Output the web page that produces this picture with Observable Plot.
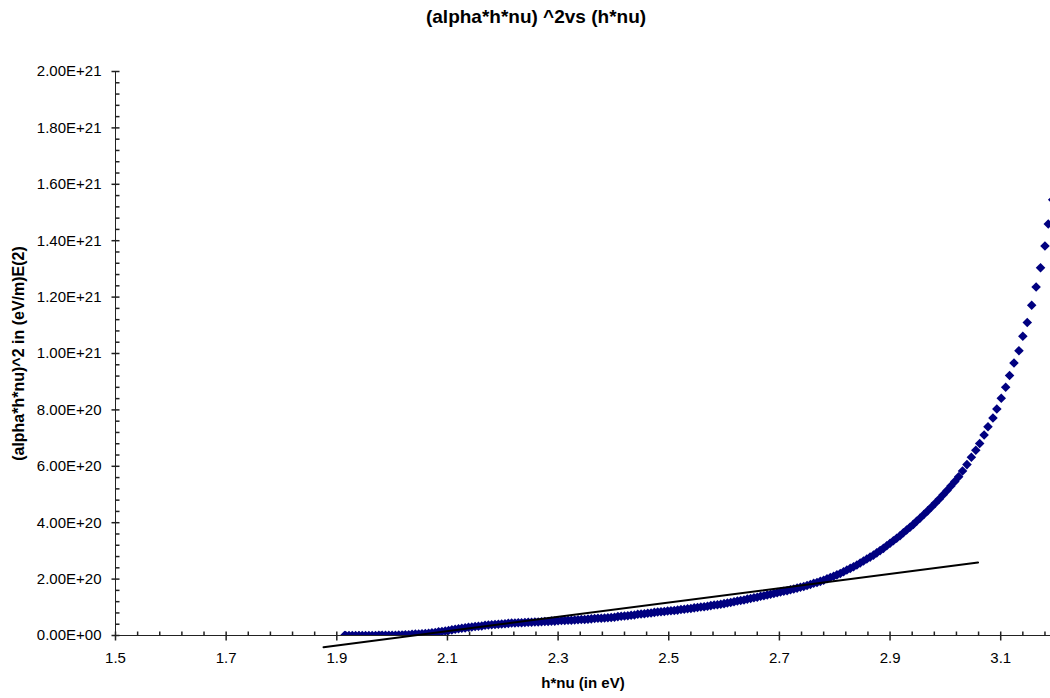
<!DOCTYPE html>
<html><head><meta charset="utf-8">
<script src="https://cdn.jsdelivr.net/npm/d3@7"></script>
<script src="https://cdn.jsdelivr.net/npm/@observablehq/plot@0.6"></script>
<style>body{margin:0;background:#fff;}</style>
</head><body><div id="chart"></div>
<script>
const title = "(alpha*h*nu) ^2vs (h*nu)";
const xTitle = "h*nu (in eV)";
const yTitle = "(alpha*h*nu)^2 in (eV/m)E(2)";

// photon energy (eV)
const energy = [
1.914,1.916,1.922,1.928,1.934,1.940,1.946,
1.952,1.958,1.964,1.970,1.976,1.982,1.988,1.994,2.000,
2.006,2.012,2.018,2.024,2.030,
2.036,2.042,2.048,2.054,2.060,
2.066,2.072,2.078,2.084,2.090,
2.096,2.102,2.108,2.114,2.120,
2.126,2.132,2.138,2.144,2.150,
2.156,2.162,2.168,2.174,2.180,
2.186,2.192,2.198,2.204,2.210,
2.216,2.222,2.228,2.234,2.240,
2.246,2.252,2.258,2.264,2.270,
2.276,2.282,2.288,2.294,2.300,
2.306,2.312,2.318,2.324,2.330,
2.336,2.342,2.348,2.354,2.360,
2.366,2.372,2.378,2.384,2.390,
2.396,2.402,2.408,2.414,2.420,
2.426,2.432,2.438,2.444,2.450,
2.456,2.462,2.468,2.474,2.480,
2.486,2.492,2.498,2.504,2.510,
2.516,2.522,2.528,2.534,2.540,
2.546,2.552,2.558,2.564,2.570,
2.576,2.582,2.588,2.594,2.600,
2.606,2.612,2.618,2.624,2.630,
2.636,2.642,2.648,2.654,2.660,
2.666,2.672,2.678,2.684,2.690,
2.696,2.702,2.708,2.714,2.720,
2.726,2.732,2.738,2.744,2.750,
2.756,2.762,2.768,2.774,2.780,
2.786,2.792,2.798,2.804,2.810,
2.816,2.822,2.828,2.834,2.840,
2.846,2.852,2.858,2.864,2.870,
2.876,2.882,2.888,2.894,2.900,
2.906,2.912,2.918,2.924,2.930,
2.936,2.942,2.948,2.954,
2.961,2.968,2.975,2.982,2.989,2.996,3.003,3.010,3.017,3.024,
3.031,3.039,3.047,3.055,3.062,3.070,3.077,3.086,3.093,3.101,
3.109,3.116,3.124,3.133,3.140,3.148,3.156,3.164,3.172,3.180,3.186,3.194
];
// (alpha*h*nu)^2 in units of 1E+20
const ahv2E20 = [
0,0,0,0,0,0,0,
0,0,0,0,0.01,0.01,0.01,0.01,0.01,
0.01,0.02,0.02,0.03,0.03,
0.04,0.05,0.05,0.06,0.07,
0.08,0.10,0.11,0.13,0.14,
0.16,0.18,0.20,0.22,0.24,
0.26,0.27,0.29,0.30,0.32,
0.33,0.34,0.36,0.37,0.38,
0.39,0.40,0.41,0.42,0.43,
0.44,0.44,0.45,0.45,0.46,
0.47,0.47,0.48,0.48,0.49,
0.50,0.50,0.51,0.51,0.52,
0.53,0.53,0.54,0.54,0.55,
0.56,0.57,0.57,0.58,0.59,
0.60,0.61,0.61,0.62,0.63,
0.64,0.65,0.67,0.68,0.69,
0.70,0.72,0.73,0.75,0.76,
0.77,0.79,0.80,0.82,0.83,
0.84,0.85,0.87,0.88,0.89,
0.90,0.92,0.93,0.95,0.96,
0.98,0.99,1.01,1.02,1.04,
1.06,1.08,1.09,1.11,1.13,
1.15,1.17,1.20,1.22,1.24,
1.26,1.29,1.31,1.34,1.36,
1.39,1.41,1.44,1.46,1.49,
1.52,1.54,1.57,1.59,1.62,
1.65,1.68,1.71,1.74,1.77,
1.81,1.85,1.88,1.92,1.96,
2.01,2.06,2.10,2.15,2.20,
2.26,2.32,2.38,2.44,2.50,
2.57,2.64,2.71,2.78,2.85,
2.93,3.01,3.09,3.18,3.27,
3.36,3.45,3.54,3.64,3.74,
3.84,3.94,4.05,4.16,
4.29,4.42,4.56,4.70,4.84,4.99,5.14,5.30,5.46,5.63,
5.83,6.06,6.32,6.57,6.81,7.11,7.40,7.71,8.03,8.41,
8.80,9.22,9.66,10.10,10.61,11.10,11.71,12.36,13.04,13.81,14.59,15.45
];

// linear fit line
const trendEnergy = [1.876, 3.059];
const trendE20 = [-0.415, 2.587];

const xMajor = [1.5,1.7,1.9,2.1,2.3,2.5,2.7,2.9,3.1];
const xMinor = [1.54,1.58,1.62,1.66,1.74,1.78,1.82,1.86,1.94,1.98,2.02,2.06,2.14,2.18,2.22,2.26,2.34,2.38,2.42,2.46,2.54,2.58,2.62,2.66,2.74,2.78,2.82,2.86,2.94,2.98,3.02,3.06,3.14,3.18];
const yMajorE20 = [0,2,4,6,8,10,12,14,16,18,20];
const yMinorE20 = [0.4,0.8,1.2,1.6,2.4,2.8,3.2,3.6,4.4,4.8,5.2,5.6,6.4,6.8,7.2,7.6,8.4,8.8,9.2,9.6,10.4,10.8,11.2,11.6,12.4,12.8,13.2,13.6,14.4,14.8,15.2,15.6,16.4,16.8,17.2,17.6,18.4,18.8,19.2,19.6];

const E20 = 1e20;
const points = energy.map((e, i) => ({x: e, y: ahv2E20[i] * E20}));
const trend = trendEnergy.map((e, i) => ({x: e, y: trendE20[i] * E20}));
const yMajor = yMajorE20.map(v => v * E20);
const yMinor = yMinorE20.map(v => v * E20);

const fmtE = d => d === 0 ? "0.00E+00" : d.toExponential(2).toUpperCase();
const seg = (x1, y1, x2, y2) => ({draw(ctx) { ctx.moveTo(x1, y1); ctx.lineTo(x2, y2); }});
const axisColor = "#222";

const chart = Plot.plot({
  width: 1050,
  height: 698,
  marginLeft: 115,
  marginRight: 0,
  marginTop: 71,
  marginBottom: 63,
  style: {fontFamily: "'Liberation Sans', Arial, sans-serif", fontSize: "15px", color: "#000", background: "#fff"},
  x: {domain: [1.5, 3.19]},
  y: {domain: [0, 2e21]},
  marks: [
    Plot.ruleY([0], {stroke: axisColor}),
    Plot.ruleX([1.5], {stroke: axisColor}),
    Plot.dot(xMinor, {x: d => d, y: () => 0, r: 1, symbol: seg(0, -4, 0, 0), stroke: axisColor, fill: "none"}),
    Plot.dot(xMajor, {x: d => d, y: () => 0, r: 1, symbol: seg(0, -4, 0, 5), stroke: axisColor, fill: "none"}),
    Plot.dot(yMinor, {x: () => 1.5, y: d => d, r: 1, symbol: seg(0, 0, 4, 0), stroke: axisColor, fill: "none"}),
    Plot.dot(yMajor, {x: () => 1.5, y: d => d, r: 1, symbol: seg(-4, 0, 4, 0), stroke: axisColor, fill: "none"}),
    Plot.axisX({ticks: xMajor, tickSize: 0, tickPadding: 17, tickFormat: d3.format(".1f"), fontSize: 15, label: null}),
    Plot.axisY({ticks: yMajor, tickSize: 0, tickPadding: 14, tickFormat: fmtE, fontSize: 15, label: null}),
    Plot.dot(points, {x: "x", y: "y", symbol: "diamond2", r: 4.3, fill: "#000080", stroke: "none", clip: true}),
    Plot.line(trend, {x: "x", y: "y", stroke: "#000", strokeWidth: 2}),
    Plot.text([title], {text: d => d, frameAnchor: "top", textAnchor: "middle", lineAnchor: "middle", dx: -47, dy: -55, fontSize: 19, fontWeight: "bold"}),
    Plot.text([xTitle], {text: d => d, frameAnchor: "bottom", textAnchor: "middle", lineAnchor: "middle", dy: 48, fontSize: 15, fontWeight: "bold"}),
    Plot.text([yTitle], {text: d => d, frameAnchor: "left", textAnchor: "middle", lineAnchor: "middle", dx: -97, rotate: -90, fontSize: 16, fontWeight: "bold", letterSpacing: "2.8px"})
  ]
});
document.getElementById("chart").appendChild(chart);
</script>
</body></html>
